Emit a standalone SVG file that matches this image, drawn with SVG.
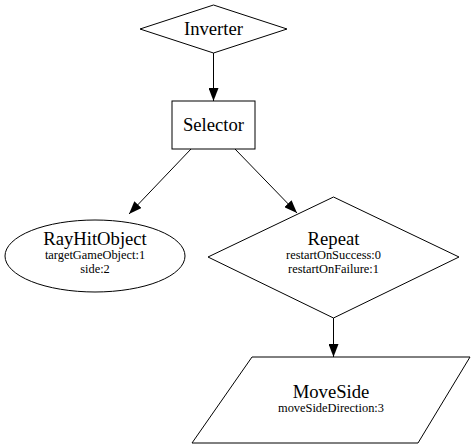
<svg xmlns="http://www.w3.org/2000/svg" width="476" height="448" viewBox="0 0 476 448">
<style>
.s{fill:#fff;stroke:#000;stroke-width:1}
.e{fill:none;stroke:#000;stroke-width:1}
.t{font-family:"Liberation Serif","DejaVu Serif",serif;font-size:18.67px;text-anchor:middle;fill:#000}
.st{font-family:"Liberation Serif","DejaVu Serif",serif;font-size:12.4px;text-anchor:middle;fill:#000}
</style>
<defs>
<marker id="ah" viewBox="0 0 13 10" refX="13" refY="5" markerWidth="13" markerHeight="10" markerUnits="userSpaceOnUse" orient="auto">
<path d="M0,0 L13,5 L0,10 Z" fill="#000"/>
</marker>
</defs>
<rect width="476" height="448" fill="#fff"/>
<g id="connectors">
<line class="e" x1="213.5" y1="53" x2="213.5" y2="101" marker-end="url(#ah)"/>
<line class="e" x1="191" y1="149" x2="129" y2="214" marker-end="url(#ah)"/>
<line class="e" x1="235" y1="149" x2="297" y2="213" marker-end="url(#ah)"/>
<line class="e" x1="333.5" y1="318" x2="333.5" y2="357" marker-end="url(#ah)"/>
</g>
<g id="inverter">
<polygon class="s" points="213.5,5 287,29 213.5,53 140,29"/>
<text class="t" x="213.5" y="35">Inverter</text>
</g>
<g id="selector">
<rect class="s" x="172" y="101" width="83" height="48"/>
<text class="t" x="213.5" y="131">Selector</text>
</g>
<g id="rayhitobject">
<ellipse class="s" cx="95" cy="256" rx="90" ry="36"/>
<text class="t" x="95" y="245">RayHitObject</text>
<text class="st" x="95" y="259">targetGameObject:1</text>
<text class="st" x="95" y="273">side:2</text>
</g>
<g id="repeat">
<polygon class="s" points="333.5,197 459,257 333.5,318 208,257"/>
<text class="t" x="333.5" y="245">Repeat</text>
<text class="st" x="333.5" y="259">restartOnSuccess:0</text>
<text class="st" x="333.5" y="273">restartOnFailure:1</text>
</g>
<g id="moveside">
<polygon class="s" points="252,357 470,357 418,443 192,443"/>
<text class="t" x="331" y="398">MoveSide</text>
<text class="st" x="331" y="412">moveSideDirection:3</text>
</g>
</svg>
